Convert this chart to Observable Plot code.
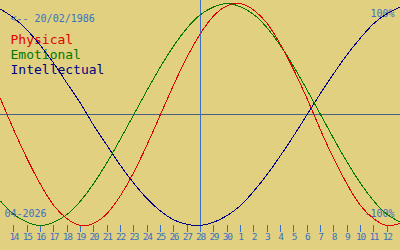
<!DOCTYPE html>
<html><head><meta charset="utf-8">
<script src="https://cdn.jsdelivr.net/npm/d3@7"></script>
<script src="https://cdn.jsdelivr.net/npm/@observablehq/plot@0.6"></script>
<style>
body{margin:0;background:#e0d080}
svg{display:block}
g[aria-label="x-axis tick label"] text{letter-spacing:-1.3px}
g[aria-label="line"] path, g[aria-label="rule"] line, g[aria-label="x-axis tick"] path{shape-rendering:crispEdges}
</style>
</head><body><div id="chart"></div>
<script>
// day index 0 = 13 April 2026 ... 30 = 13 May 2026
const dayLabels = ["13","14","15","16","17","18","19","20","21","22","23","24","25","26","27","28","29","30","1","2","3","4","5","6","7","8","9","10","11","12","13"];
const physical = [0.14,-0.14,-0.40,-0.63,-0.82,-0.94,-1.00,-0.98,-0.89,-0.73,-0.52,-0.27,0,0.27,0.52,0.73,0.89,0.98,1.00,0.94,0.82,0.63,0.40,0.14,-0.14,-0.40,-0.63,-0.82,-0.94,-1.00,-0.98];
const emotional = [-0.78,-0.90,-0.97,-1.00,-0.97,-0.90,-0.78,-0.62,-0.43,-0.22,0,0.22,0.43,0.62,0.78,0.90,0.97,1.00,0.97,0.90,0.78,0.62,0.43,0.22,0,-0.22,-0.43,-0.62,-0.78,-0.90,-0.97];
const intellectual = [0.95,0.87,0.76,0.62,0.46,0.28,0.10,-0.10,-0.28,-0.46,-0.62,-0.76,-0.87,-0.95,-0.99,-1.00,-0.97,-0.91,-0.82,-0.69,-0.54,-0.37,-0.19,0,0.19,0.37,0.54,0.69,0.82,0.91,0.97];
const tickDays = [1,2,3,4,5,6,7,8,9,10,11,12,13,14,15,16,17,18,19,20,21,22,23,24,25,26,27,28,29];
const todayIndex = [15];
const seriesNames = ["Physical","Emotional","Intellectual"];
const seriesColors = ["#e00000","#007800","#000080"];
const birthLabel = ["<-- 20/02/1986"];
const monthLabel = ["04-2026"];
const topLabel = ["100%"];
const bottomLabel = ["-100%"];

const mono = "DejaVu Sans Mono, monospace";
const blue = "#3a70c0";
const idx = (d, i) => i;
const val = d => d;

const nameMarks = seriesNames.map((name, i) =>
  Plot.text([name], {text: val, frameAnchor: "top-left", dx: 10, dy: 40 + 15 * i, lineAnchor: "bottom", textAnchor: "start", fill: seriesColors[i], fontSize: 13, fontFamily: mono})
);

const chart = Plot.plot({
  width: 400, height: 250,
  marginLeft: 0, marginRight: 0, marginTop: 3, marginBottom: 25,
  x: {domain: [0, 30]},
  y: {domain: [-1, 1], axis: null},
  style: {background: "#e0d080", fontFamily: mono},
  marks: [
    Plot.axisX(tickDays, {tickFormat: d => dayLabels[d], tickSize: 7, tickPadding: 1, stroke: blue, color: blue, fill: blue, fontSize: 9.5, fontFamily: mono}),
    Plot.ruleY([0], {stroke: "#4a6080", strokeWidth: 1}),
    Plot.ruleX(todayIndex, {stroke: blue, strokeWidth: 1, insetTop: -3}),
    Plot.text(birthLabel, {text: val, frameAnchor: "top-left", dx: 10, dy: 18, lineAnchor: "bottom", textAnchor: "start", fill: blue, fontSize: 10, fontFamily: mono}),
    ...nameMarks,
    Plot.text(topLabel, {text: val, frameAnchor: "top-right", dx: -6, dy: 13, lineAnchor: "bottom", textAnchor: "end", fill: blue, fontSize: 10, fontFamily: mono}),
    Plot.text(bottomLabel, {text: val, frameAnchor: "bottom-right", dx: -6, dy: -9, lineAnchor: "bottom", textAnchor: "end", fill: blue, fontSize: 10, fontFamily: mono}),
    Plot.text(monthLabel, {text: val, frameAnchor: "bottom-left", dx: 4, dy: -9, lineAnchor: "bottom", textAnchor: "start", fill: blue, fontSize: 10, fontFamily: mono}),
    Plot.line(intellectual, {x: idx, y: val, stroke: seriesColors[2], strokeWidth: 1, curve: "natural"}),
    Plot.line(emotional, {x: idx, y: val, stroke: seriesColors[1], strokeWidth: 1, curve: "natural"}),
    Plot.line(physical, {x: idx, y: val, stroke: seriesColors[0], strokeWidth: 1, curve: "natural"})
  ]
});
document.getElementById("chart").append(chart);
</script>
</body></html>
